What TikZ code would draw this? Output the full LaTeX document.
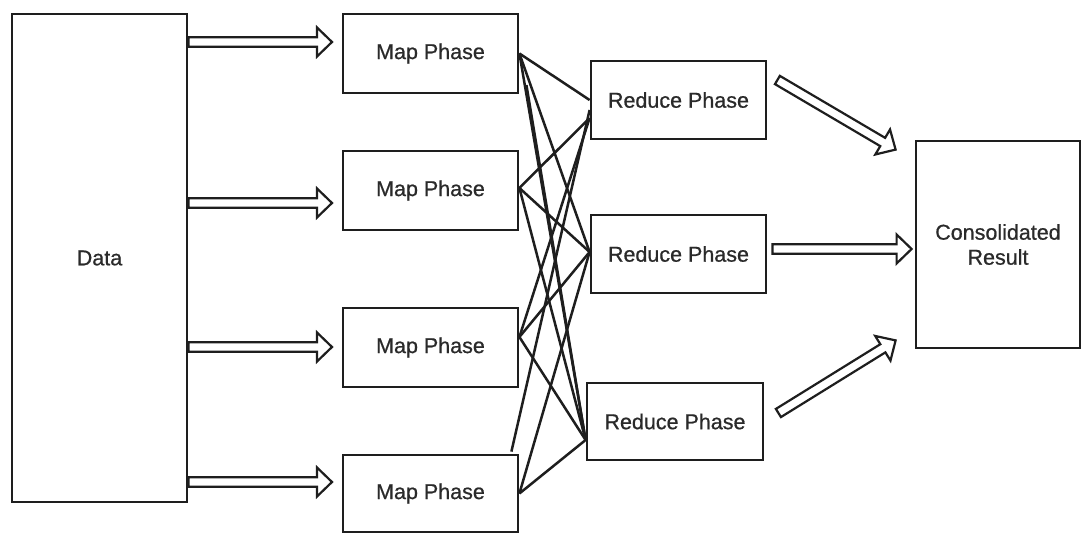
\documentclass[tikz,border=0pt]{standalone}
\usepackage{fontspec}
\setmainfont{Liberation Sans}
\newfontfamily\labelfont[FakeBold=0.7]{Liberation Sans}
\usetikzlibrary{calc}
\definecolor{ink}{HTML}{1E1E1E}
\definecolor{txt}{HTML}{2A2A2A}
\newcommand\hollowarr[2]{%
  \coordinate (ha-n) at ($(#2)!15pt!(#1)$);
  \draw[harrow] ($(#1)!4.8pt!90:(#2)$) -- ($(ha-n)!4.8pt!90:(#2)$) -- ($(ha-n)!14.5pt!90:(#2)$) -- (#2)
     -- ($(ha-n)!14.5pt!-90:(#2)$) -- ($(ha-n)!4.8pt!-90:(#2)$) -- ($(#1)!4.8pt!-90:(#2)$) -- cycle;
}
\begin{document}
\begin{tikzpicture}[x=1pt,y=-1pt,
  box/.style={draw=ink, line width=2.8pt, rectangle, inner sep=0pt,
    font=\labelfont\fontsize{21.5}{25}\selectfont, text=txt, align=center},
  link/.style={draw=ink, line width=2.5pt},
  harrow/.style={draw=ink, line width=2.2pt, fill=white, line join=miter}]
\useasboundingbox (0,0) rectangle (1081,534);
\fill[white] (0,0) rectangle (1081,534);
% boxes
\node[box, minimum width=175pt, minimum height=488pt] (data) at (99.5,258) {Data};
\node[box, minimum width=175pt, minimum height=79pt] (m1) at (430.5,53.5) {Map Phase};
\node[box, minimum width=175pt, minimum height=79pt] (m2) at (430.5,190.5) {Map Phase};
\node[box, minimum width=175pt, minimum height=79pt] (m3) at (430.5,347.5) {Map Phase};
\node[box, minimum width=175pt, minimum height=77pt] (m4) at (430.5,493.5) {Map Phase};
\node[box, minimum width=175pt, minimum height=78pt] (r1) at (678.5,100) {Reduce Phase};
\node[box, minimum width=175pt, minimum height=78pt] (r2) at (678.5,254) {Reduce Phase};
\node[box, minimum width=176pt, minimum height=77pt] (r3) at (675,421.5) {Reduce Phase};
\node[box, minimum width=164pt, minimum height=207pt] (cons) at (998,244.5) {Consolidated\\Result};
% map -> reduce links
\draw[link] (m1.east) -- (r1.west);
\draw[link] (m1.east) -- ([yshift=2pt]r2.west);
\draw[link] (m1.east) -- ([yshift=-18.5pt]r3.west);
\draw[link] ([yshift=2.5pt]m2.east) -- ([yshift=-18pt]r1.west);
\draw[link] ([yshift=2.5pt]m2.east) -- ([yshift=2pt]r2.west);
\draw[link] ([yshift=2.5pt]m2.east) -- ([yshift=-18.5pt]r3.west);
\draw[link] ([yshift=10.5pt]m3.east) -- ([yshift=-18pt]r1.west);
\draw[link] ([yshift=10.5pt]m3.east) -- ([yshift=2pt]r2.west);
\draw[link] ([yshift=10.5pt]m3.east) -- ([yshift=-18.5pt]r3.west);
\draw[link] ([xshift=-8pt,yshift=2pt]m4.north east) -- ([yshift=-10pt]r1.west);
\draw[link] (m4.east) -- ([yshift=2pt]r2.west);
\draw[link] (m4.east) -- ([yshift=-18.5pt]r3.west);
\draw[link] ([xshift=7pt,yshift=-31.5pt]m1.east) -- ([yshift=-18.5pt]r3.west);
% data -> map arrows
\coordinate (t1) at (332,42);
\coordinate (t2) at (332,203);
\coordinate (t3) at (332,347);
\coordinate (t4) at (332,482);
\coordinate (s1) at (data.east |- t1);
\coordinate (s2) at (data.east |- t2);
\coordinate (s3) at (data.east |- t3);
\coordinate (s4) at (data.east |- t4);
\hollowarr{s1}{t1}
\hollowarr{s2}{t2}
\hollowarr{s3}{t3}
\hollowarr{s4}{t4}
% reduce -> consolidated arrows
\coordinate (u1) at ([xshift=10pt,yshift=20pt]r1.east);
\coordinate (v1) at ([xshift=-19pt,yshift=-10pt]cons.north west);
\coordinate (u2) at ([xshift=5pt,yshift=5pt]r2.east);
\coordinate (v2) at ($(cons.west |- u2)+(-3,0)$);
\coordinate (u3) at ([xshift=14pt,yshift=8.5pt]r3.east);
\coordinate (v3) at ([xshift=-19pt,yshift=9pt]cons.south west);
\hollowarr{u1}{v1}
\hollowarr{u2}{v2}
\hollowarr{u3}{v3}
\end{tikzpicture}
\end{document}
